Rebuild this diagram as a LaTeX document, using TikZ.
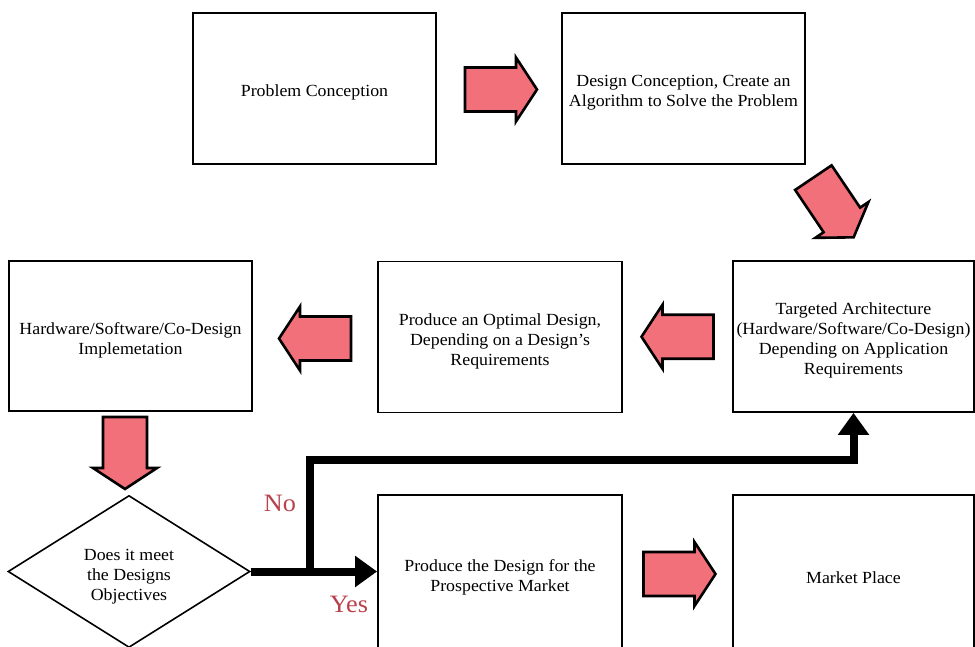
\documentclass[tikz,border=0pt]{standalone}
\usepackage{fontspec}
\setmainfont{Liberation Serif}[FakeStretch=1.05]
\usetikzlibrary{shapes.geometric,arrows.meta,calc}
\definecolor{arrowpink}{RGB}{242,112,122}
\definecolor{answerred}{RGB}{185,65,75}
% extra room above the first line of a label, lowering the text a little
\newcommand{\topgap}[1][20pt]{\rule{0pt}{#1}}
\begin{document}
\begin{tikzpicture}[x=1pt,y=-1pt,
  boxtext/.style={font=\fontsize{17}{20}\selectfont},
  stepbox/.style={boxtext,draw=black,line width=1.8pt,minimum width=243pt,
    minimum height=151pt,align=center,inner sep=1pt},
  decision/.style={boxtext,draw=black,line width=1.6pt,diamond,shape aspect=1.6,
    minimum width=242pt,minimum height=152pt,inner sep=0pt,align=center},
  blockarrow/.pic={\draw[fill=arrowpink,draw=black,line width=2.6pt,line join=miter]
    (-36,-22) -- (15,-22) -- (15,-32) -- (36,0) -- (15,32) -- (15,22) -- (-36,22) -- cycle;},
  flow/.style={line width=8pt,-{Triangle[length=22pt,width=30pt]}},
  answer/.style={text=answerred,font=\fontsize{25}{25}\selectfont}
]
\clip (0,0) rectangle (975,647);

% process steps
\node[stepbox] (prob)   at (314.5,88.5) {\topgap Problem Conception};
\node[stepbox] (design) at (683.5,88.5) {\topgap Design Conception, Create an\\Algorithm to Solve the Problem};
\node[stepbox,minimum width=241pt] (arch) at (853.5,336.5)
  {\topgap Targeted Architecture\\(Hardware/Software/Co-Design)\\Depending on Application\\Requirements};
\node[stepbox,minimum width=244pt] (optim) at (500,337)
  {\topgap Produce an Optimal Design,\\Depending on a Design's\\Requirements};
\node[stepbox,minimum height=150pt] (impl) at (130.5,336)
  {\topgap Hardware/Software/Co-Design\\Implemetation};
\node[stepbox,minimum width=244pt,minimum height=157pt] (prod) at (500,573.5)
  {\topgap Produce the Design for the\\Prospective Market};
\node[stepbox,minimum width=241pt,minimum height=157pt] (market) at (853.5,573.5) {\topgap Market Place};

% decision
\node[decision] (dia) at (129,571.5) {\topgap[22pt]Does it meet\\the Designs\\Objectives};

% block arrows between the steps
\pic at ($(prob.east)!0.5!(design.west)+(2,1)$) {blockarrow};
\pic[rotate=-56] at (833.5,207.5) {blockarrow};
\pic[rotate=180] at ($(optim.east)!0.5!(arch.west)$) {blockarrow};
\pic[rotate=180] at ($(impl.east)!0.5!(optim.west)+(0,2)$) {blockarrow};
\pic[rotate=-90] at (125,453) {blockarrow};
\pic at (679.5,574) {blockarrow};

% decision outcomes
\coordinate (split) at ($(dia.east)+(59,0)$);
\draw[flow] (split) |- ($(arch.south)+(0,47)$) -- (arch.south);
\draw[flow] (dia.east) -- (dia.east -| prod.west);
\node[answer] (no)  at (280,503) {No};
\node[answer] (yes) at (349,604) {Yes};
\end{tikzpicture}
\end{document}
